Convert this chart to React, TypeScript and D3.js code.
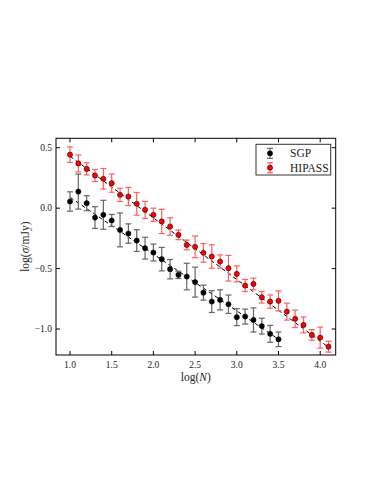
import React, { useEffect, useRef } from 'react';
import * as d3 from 'd3';

// log(N) positions
const sgpX = [1.0, 1.1, 1.2, 1.3, 1.4, 1.5, 1.6, 1.7, 1.8, 1.9, 2.0, 2.1, 2.2, 2.3, 2.4, 2.5, 2.6, 2.7, 2.8, 2.9, 3.0, 3.1, 3.2, 3.3, 3.4, 3.5];
const sgpY = [0.055, 0.137, 0.041, -0.078, -0.055, -0.102, -0.18, -0.21, -0.268, -0.331, -0.367, -0.422, -0.505, -0.552, -0.566, -0.612, -0.699, -0.773, -0.759, -0.795, -0.902, -0.897, -0.925, -0.976, -1.04, -1.085];
const sgpErr = [0.08, 0.145, 0.062, 0.09, 0.12, 0.05, 0.14, 0.08, 0.09, 0.09, 0.07, 0.097, 0.08, 0.03, 0.11, 0.124, 0.062, 0.09, 0.083, 0.076, 0.07, 0.062, 0.1, 0.065, 0.07, 0.06];

const hipassX = [1.0, 1.1, 1.2, 1.3, 1.4, 1.5, 1.6, 1.7, 1.8, 1.9, 2.0, 2.1, 2.2, 2.3, 2.4, 2.5, 2.6, 2.7, 2.8, 2.9, 3.0, 3.1, 3.2, 3.3, 3.4, 3.5, 3.6, 3.7, 3.8, 3.9, 4.0, 4.1];
const hipassY = [0.443, 0.37, 0.325, 0.27, 0.243, 0.207, 0.11, 0.096, 0.036, -0.014, -0.055, -0.11, -0.152, -0.221, -0.304, -0.32, -0.37, -0.4, -0.442, -0.497, -0.544, -0.64, -0.627, -0.737, -0.773, -0.767, -0.856, -0.916, -0.966, -1.049, -1.071, -1.146];
const hipassErr = [0.064, 0.07, 0.05, 0.05, 0.085, 0.075, 0.055, 0.075, 0.094, 0.07, 0.055, 0.1, 0.073, 0.04, 0.04, 0.09, 0.077, 0.097, 0.055, 0.106, 0.066, 0.05, 0.048, 0.048, 0.055, 0.083, 0.07, 0.072, 0.066, 0.044, 0.087, 0.045];

// dashed fits: [intercept, slope, xStart, xEnd]
const sgpFit = [0.56, -0.47, 1.0, 3.5];
const hipassFit = [0.94, -0.51, 1.0, 4.1];

const xTicks = [1.0, 1.5, 2.0, 2.5, 3.0, 3.5, 4.0];
const yTicks = [0.5, 0.0, -0.5, -1.0];

const FONT = 'Liberation Serif';

const App = () => {
  const svgRef = useRef<SVGSVGElement>(null);

  useEffect(() => {
    const svg = d3.select(svgRef.current);
    svg.selectAll('*').remove();

    const left = 56, right = 335.7, top = 138.3, bottom = 355;
    const x = d3.scaleLinear().domain([0.832, 4.186]).range([left, right]);
    const y = d3.scaleLinear().domain([-1.215, 0.578]).range([bottom, top]);
    const fmt = (d: number) => d3.format('.1f')(d).replace('-', '\u2212');

    const series = [
      { name: 'SGP', xs: sgpX, ys: sgpY, errs: sgpErr, fit: sgpFit, fill: '#000', err: '#666' },
      { name: 'HIPASS', xs: hipassX, ys: hipassY, errs: hipassErr, fit: hipassFit, fill: '#ff0000', err: '#ff6060' },
    ];

    const plot = svg.append('g');

    series.forEach(s => {
      const [a, b, x0, x1] = s.fit;
      plot.append('line')
        .attr('x1', x(x0)).attr('y1', y(a + b * x0))
        .attr('x2', x(x1)).attr('y2', y(a + b * x1))
        .attr('stroke', '#000').attr('stroke-width', 1)
        .attr('stroke-dasharray', '4,3');
    });

    series.forEach(s => {
      const g = plot.append('g');
      const pts = s.xs.map((v, i) => ({ x: v, y: s.ys[i], e: s.errs[i] }));
      const eb = g.selectAll('.eb').data(pts).enter().append('g')
        .attr('stroke', s.err).attr('stroke-width', 1.2);
      eb.append('line')
        .attr('x1', d => x(d.x)).attr('x2', d => x(d.x))
        .attr('y1', d => y(d.y - d.e)).attr('y2', d => y(d.y + d.e));
      eb.append('line')
        .attr('x1', d => x(d.x) - 3).attr('x2', d => x(d.x) + 3)
        .attr('y1', d => y(d.y + d.e)).attr('y2', d => y(d.y + d.e));
      eb.append('line')
        .attr('x1', d => x(d.x) - 3).attr('x2', d => x(d.x) + 3)
        .attr('y1', d => y(d.y - d.e)).attr('y2', d => y(d.y - d.e));
      g.selectAll('circle').data(pts).enter().append('circle')
        .attr('cx', d => x(d.x)).attr('cy', d => y(d.y)).attr('r', 2.6)
        .attr('fill', s.fill).attr('stroke', '#000').attr('stroke-width', 0.5);
    });

    // frame
    svg.append('rect')
      .attr('x', left).attr('y', top)
      .attr('width', right - left).attr('height', bottom - top)
      .attr('fill', 'none').attr('stroke', '#000').attr('stroke-width', 1);

    const tl = 4;
    xTicks.forEach(t => {
      svg.append('line').attr('x1', x(t)).attr('x2', x(t)).attr('y1', bottom).attr('y2', bottom - tl).attr('stroke', '#000');
      svg.append('line').attr('x1', x(t)).attr('x2', x(t)).attr('y1', top).attr('y2', top + tl).attr('stroke', '#000');
      svg.append('text').attr('x', x(t)).attr('y', bottom + 13)
        .attr('text-anchor', 'middle').style('font-family', FONT).attr('font-size', 9.5)
        .attr('fill', '#222').text(fmt(t));
    });
    yTicks.forEach(t => {
      svg.append('line').attr('x1', left).attr('x2', left + tl).attr('y1', y(t)).attr('y2', y(t)).attr('stroke', '#000');
      svg.append('line').attr('x1', right).attr('x2', right - tl).attr('y1', y(t)).attr('y2', y(t)).attr('stroke', '#000');
      svg.append('text').attr('x', left - 4).attr('y', y(t)).attr('dy', '0.33em')
        .attr('text-anchor', 'end').style('font-family', FONT).attr('font-size', 9.5)
        .attr('fill', '#222').text(fmt(t));
    });

    // axis labels
    const xl = svg.append('text').attr('x', (left + right) / 2).attr('y', bottom + 26)
      .attr('text-anchor', 'middle').style('font-family', FONT).attr('font-size', 11.5).attr('fill', '#222');
    xl.append('tspan').text('log(');
    xl.append('tspan').attr('font-style', 'italic').text('N');
    xl.append('tspan').text(')');

    const yl = svg.append('text')
      .attr('transform', `translate(${left - 27},${(top + bottom) / 2}) rotate(-90)`)
      .attr('text-anchor', 'middle').style('font-family', FONT).attr('font-size', 11.5).attr('fill', '#222');
    yl.append('tspan').text('log(');
    yl.append('tspan').attr('font-style', 'italic').text('σ');
    yl.append('tspan').text('/mJy)');

    // legend
    const lg = svg.append('g');
    lg.append('rect').attr('x', 256).attr('y', 144.3).attr('width', 74.7).attr('height', 30.7)
      .attr('fill', '#fff').attr('stroke', '#333').attr('stroke-width', 1);
    series.forEach((s, i) => {
      const cy = 153.3 + i * 14.4;
      const cx = 270;
      lg.append('line').attr('x1', cx).attr('x2', cx).attr('y1', cy - 5).attr('y2', cy + 5).attr('stroke', s.err).attr('stroke-width', 1.2);
      lg.append('line').attr('x1', cx - 3).attr('x2', cx + 3).attr('y1', cy - 5).attr('y2', cy - 5).attr('stroke', s.err).attr('stroke-width', 1.2);
      lg.append('line').attr('x1', cx - 3).attr('x2', cx + 3).attr('y1', cy + 5).attr('y2', cy + 5).attr('stroke', s.err).attr('stroke-width', 1.2);
      lg.append('circle').attr('cx', cx).attr('cy', cy).attr('r', 2.6)
        .attr('fill', s.fill).attr('stroke', '#000').attr('stroke-width', 0.5);
      lg.append('text').attr('x', 290).attr('y', cy).attr('dy', '0.35em')
        .style('font-family', FONT).attr('font-size', 11.5).attr('fill', '#222').text(s.name);
    });
  }, []);

  return (
    <svg ref={svgRef} width={383} height={495}
      style={{ position: 'absolute', left: 0, top: 0, background: '#fff' }} />
  );
};

export default App;
